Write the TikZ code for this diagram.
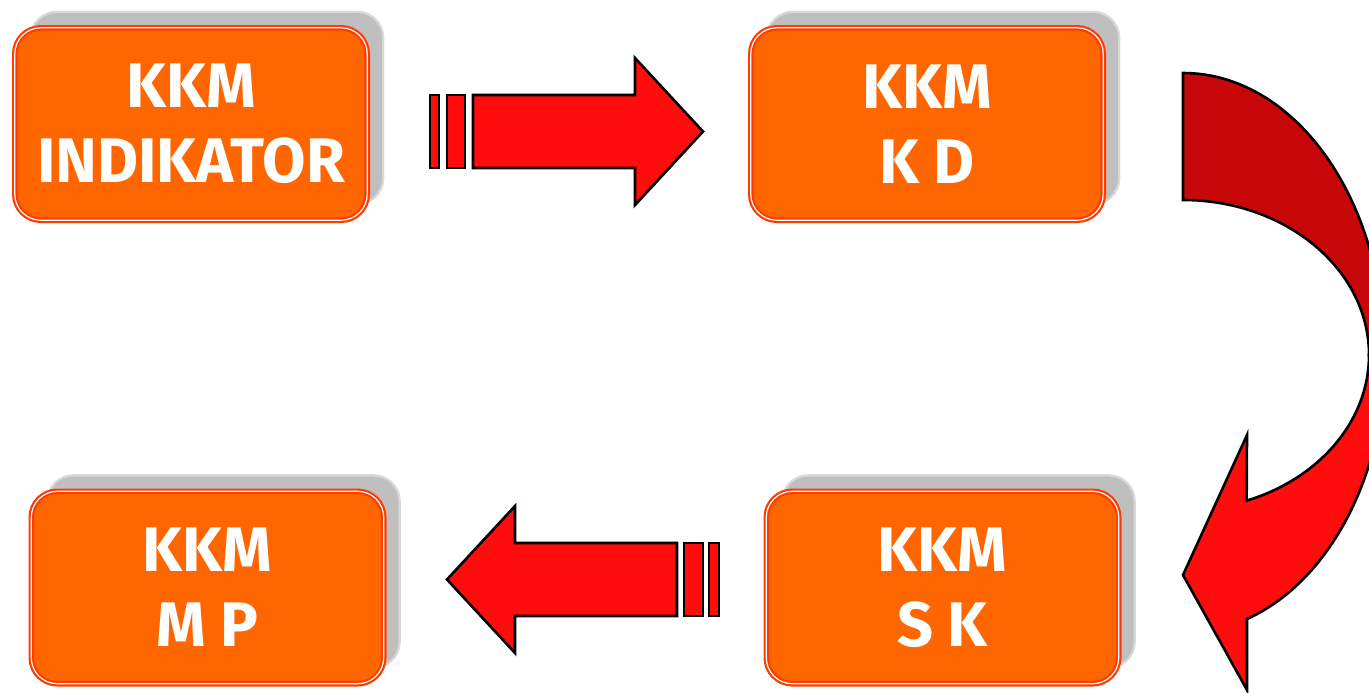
\documentclass[tikz,border=0pt]{standalone}
\usepackage{fontspec}
\setmainfont{Fira Sans}
\usetikzlibrary{positioning,shadows}
\definecolor{boxorange}{HTML}{FF6600}
\definecolor{boxedge}{HTML}{FF3C00}
\definecolor{shadowgray}{HTML}{BFBFBF}
\definecolor{arrowred}{HTML}{FF0D0D}
\definecolor{arrowdark}{HTML}{C80808}

\begin{document}
\begin{tikzpicture}[x=0.5pt,y=-0.5pt,
				kkm/.style={draw=boxedge,double=white,double distance=0.6pt,line width=1.1pt,
					fill=boxorange,rounded corners=13pt,outer sep=0pt,inner sep=0pt,
					minimum width=176.2pt,minimum height=96.2pt,
					text=white,align=center,font=\bfseries\fontsize{31.5}{37.5}\selectfont,
					general shadow={fill=shadowgray,draw=gray!30,shadow xshift=8pt,shadow yshift=8pt}},
				blockarrow/.style={fill=arrowred,draw=black,line width=1.3pt,line join=miter}]
				\useasboundingbox (0,0) rectangle (1369,692);
				\clip (0,0) rectangle (1369,692);

				\node[kkm] (IND) at (191,124)     {KKM\\INDIKATOR};
				\node[kkm] (KD)  at (927,124)     {KKM\\K D};
				\node[kkm] (SK)  at (942.5,587.5) {KKM\\S K};
				\node[kkm] (MP)  at (207.5,587.5) {KKM\\M P};

				% striped arrow IND -> KD
				\draw[blockarrow] (430,95) rectangle (439,168);
				\draw[blockarrow] (447,95) rectangle (465,168);
				\draw[blockarrow] (473,95) -- (635,95) -- (635,58) -- (703,131.5)
					-- (635,205) -- (635,168) -- (473,168) -- cycle;

				% curved arrow KD -> SK
				\draw[blockarrow] (1369,355) arc[start angle=0,end angle=70,x radius=186,y radius=155]
					-- (1247,435) -- (1183,575) -- (1247,690) -- (1247,619)
					arc[start angle=72,end angle=0,x radius=201,y radius=280] -- cycle;
				\draw[blockarrow,fill=arrowdark] (1183,73) arc[start angle=-90,end angle=0,x radius=201,y radius=280]
					-- (1369,355) arc[start angle=0,end angle=-90,x radius=186,y radius=155] -- cycle;

				% striped arrow SK -> MP
				\draw[blockarrow] (709,543) rectangle (719,616);
				\draw[blockarrow] (684,543) rectangle (703,616);
				\draw[blockarrow] (677,543) -- (515,543) -- (515,506) -- (447,579.5)
					-- (515,653) -- (515,616) -- (677,616) -- cycle;
			\end{tikzpicture}
\end{document}
